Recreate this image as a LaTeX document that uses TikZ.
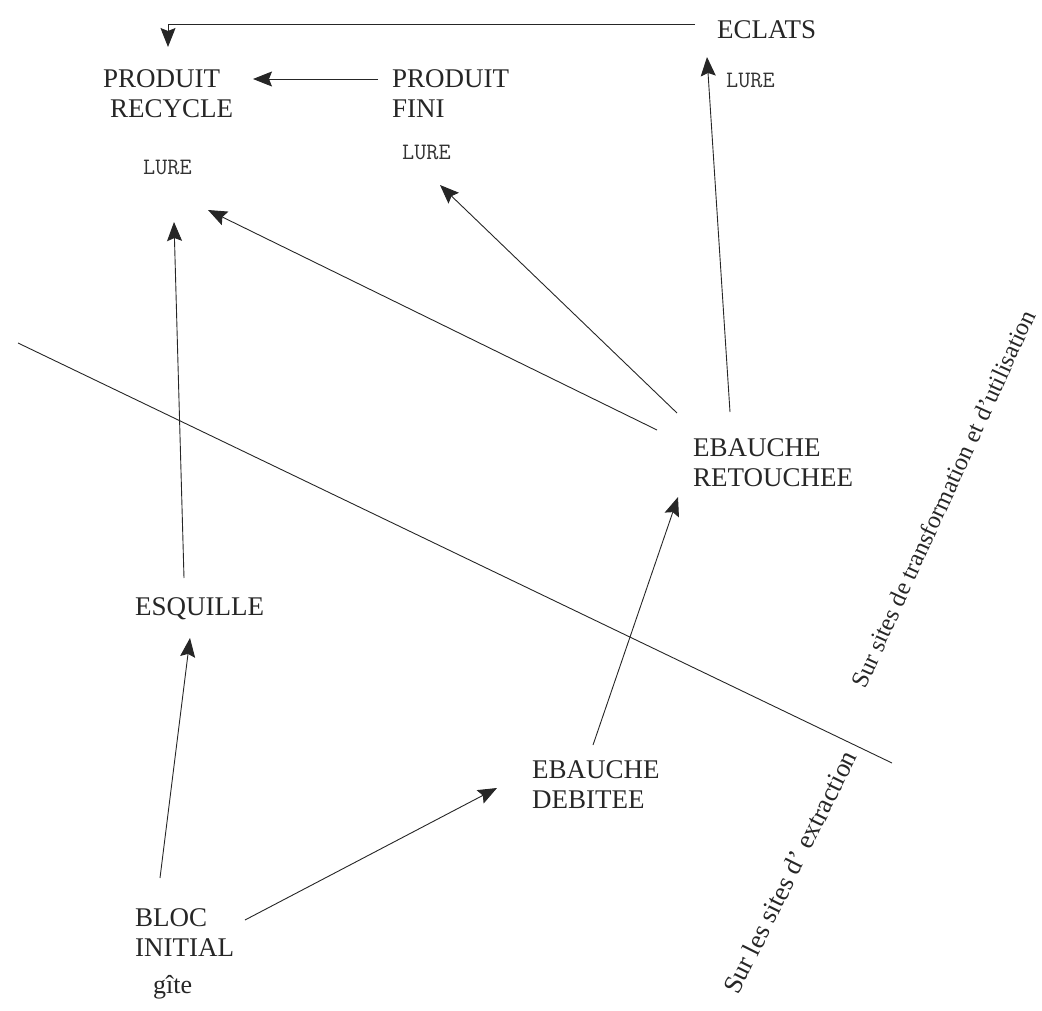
\documentclass[tikz,border=0pt]{standalone}
\usepackage{fontspec}
\setmainfont{Liberation Serif}
\usetikzlibrary{calc,arrows.meta}
\begin{document}
\begin{tikzpicture}[x=1pt,y=-1pt,
  lbl/.style={inner sep=0pt,font=\fontsize{27}{30}\selectfont,align=left,text=black!85},
  lure/.style={inner sep=0pt,font=\ttfamily\fontsize{23.5}{25}\selectfont,text=black!80},
  side/.style={inner sep=0pt,text=black!85},
  arr/.style={draw=black!85,line width=0.9pt,-{Stealth[length=19pt,width=15pt,inset=3pt]}},
  divider/.style={draw=black!85,line width=0.9pt}]
\useasboundingbox (0,0) rectangle (1042,1011);
% nodes
\node[lbl,anchor=north west] (eclats) at (717,20) {ECLATS};
\node[lbl,anchor=north west] (recycle) at (103,69) {PRODUIT\\\hspace*{7pt}RECYCLE};
\node[lbl,anchor=north west] (fini) at (392,69) {PRODUIT\\FINI};
\node[lure,anchor=base west] (lureR) at (143,175) {LURE};
\node[lure,anchor=base west] (lureF) at (402,160) {LURE};
\node[lure,anchor=base west] (lureE) at (726,88) {LURE};
\node[lbl,anchor=north west] (retouchee) at (693,438) {EBAUCHE\\RETOUCHEE};
\node[lbl,anchor=north west] (debitee) at (532,760) {EBAUCHE\\DEBITEE};
\node[lbl,anchor=base west] (esquille) at (135,615) {ESQUILLE};
\node[lbl,anchor=north west] (bloc) at (135,908) {BLOC\\INITIAL};
\node[lbl,anchor=base west,font=\fontsize{26}{28}\selectfont] (gite) at (153,993) {gîte};
% divider line and side labels
\coordinate (divA) at (18,343);
\coordinate (divB) at (892,763);
\draw[divider] (divA) -- (divB);
\node[side,rotate=65.5,font=\fontsize{24.5}{26}\selectfont] (transfo) at (943,499) {Sur sites de transformation et d’utilisation};
\node[side,rotate=63.5,font=\fontsize{26.5}{28}\selectfont] (extract) at (790,872) {Sur les sites d’ extraction};
% connectors
\draw[arr] ($(eclats.north west)+(-22,4)$) -| ($(recycle.north west)+(65,-22)$);
\draw[arr] ($(fini.north west)+(-14,10)$) -- ($(recycle.north west)+(150,10)$);
\draw[arr] ($(retouchee.north west)+(37,-26)$) -- ($(eclats.north west)+(-10,37)$);
\draw[arr] ($(retouchee.north west)+(-16,-25)$) -- ($(lureF.base west)+(38,25)$);
\draw[arr] ($(retouchee.north west)+(-36,-8)$) -- ($(lureR.base west)+(65,35)$);
\draw[arr] ($(esquille.base west)+(49,-37)$) -- ($(lureR.base west)+(31,47)$);
\draw[arr] ($(bloc.north west)+(25,-30)$) -- ($(esquille.base west)+(55,23)$);
\draw[arr] ($(bloc.north west)+(110,12)$) -- ($(debitee.north west)+(-35,28)$);
\draw[arr] ($(debitee.north west)+(61,-15)$) -- ($(retouchee.north west)+(-15,59)$);
\end{tikzpicture}
\end{document}
